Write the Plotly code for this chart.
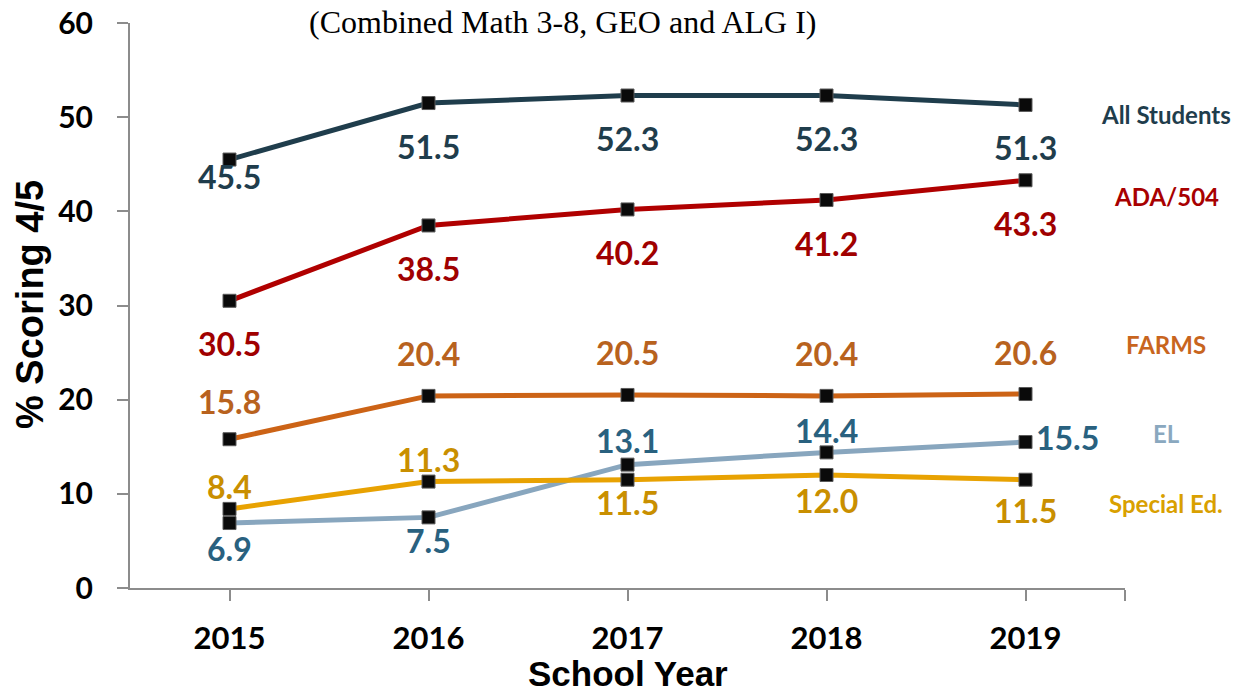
import plotly.graph_objects as go

years = [2015, 2016, 2017, 2018, 2019]
groups = ["All Students", "ADA/504", "FARMS", "EL", "Special Ed."]
all_students = [45.5, 51.5, 52.3, 52.3, 51.3]
ada_504 = [30.5, 38.5, 40.2, 41.2, 43.3]
farms = [15.8, 20.4, 20.5, 20.4, 20.6]
el = [6.9, 7.5, 13.1, 14.4, 15.5]
special_ed = [8.4, 11.3, 11.5, 12.0, 11.5]

series = [all_students, ada_504, farms, el, special_ed]
line_colors = ["#1F3D4C", "#B00000", "#CC6316", "#88A6BE", "#E8A202"]
label_colors = ["#1F3D4C", "#A00000", "#B8621E", "#29617F", "#C98F00"]
name_colors = ["#1F3D4C", "#A80000", "#C8651E", "#8AA8BF", "#D9A000"]
# vertical nudge (px) of each value label relative to its point
label_shift = [
    [-17, -43, -43, -43, -43],
    [-43, -43, -43, -43, -43],
    [38, 42, 42, 42, 42],
    [-25, -23, 24, 22, 5],
    [22, 22, -23, -25, -31],
]
# right-side series name positions (y value in axis units)
name_y = [50.3, 41.6, 25.9, 16.4, 9.0]

NUM_FONT = "Lato"

# plot area geometry (px)
L, R, T, B = 130, 123, 23, 104
PW, PH = 1248 - L - R, 692 - T - B

fig = go.Figure()
for vals, lc, g in zip(series, line_colors, groups):
    fig.add_trace(go.Scatter(
        x=years, y=vals, mode="lines+markers", name=g, showlegend=False,
        line=dict(color=lc, width=5),
        marker=dict(symbol="square", size=13, color="#0A0A0A", line=dict(color="#5A5A5A", width=1)),
    ))

annotations = []
for si, (vals, tc) in enumerate(zip(series, label_colors)):
    for i, (yr, v) in enumerate(zip(years, vals)):
        xshift = 0
        xanchor = "center"
        if si == 3 and i == 4:
            xshift = 8
            xanchor = "left"
        annotations.append(dict(
            x=yr, y=v, xref="x", yref="y", text=f"{v:.1f}", showarrow=False,
            yshift=label_shift[si][i], xshift=xshift, xanchor=xanchor, yanchor="middle",
            font=dict(family=NUM_FONT, size=32, color=tc, weight="bold"),
        ))

for g, ny, nc in zip(groups, name_y, name_colors):
    annotations.append(dict(
        x=(1166 - L) / PW, y=ny, xref="paper", yref="y", text=g, showarrow=False,
        xanchor="center", yanchor="middle",
        font=dict(family=NUM_FONT, size=24, color=nc, weight="bold"),
    ))

# chart subtitle
annotations.append(dict(
    x=(562 - L) / PW, y=1.0 - (22 - T) / PH, xref="paper", yref="paper",
    text="(Combined Math 3-8, GEO and ALG I)", showarrow=False,
    xanchor="center", yanchor="middle",
    font=dict(family="Liberation Serif", size=32, color="#000000"),
))
# axis titles
annotations.append(dict(
    x=(30 - L) / PW, y=1.0 - (305 - T) / PH, xref="paper", yref="paper",
    text="% Scoring 4/5", showarrow=False, textangle=-90,
    xanchor="center", yanchor="middle",
    font=dict(family="Liberation Sans", size=38, color="#000000", weight="bold"),
))
annotations.append(dict(
    x=(628 - L) / PW, y=-(673 - (T + PH)) / PH, xref="paper", yref="paper",
    text="School Year", showarrow=False,
    xanchor="center", yanchor="middle",
    font=dict(family="Liberation Sans", size=35, color="#000000", weight="bold"),
))

fig.update_layout(
    width=1248, height=692,
    margin=dict(l=L, r=R, t=T, b=B, autoexpand=False),
    paper_bgcolor="white", plot_bgcolor="white",
    annotations=annotations,
    xaxis=dict(
        range=[2014.5, 2019.5],
        tickvals=years + [2019.5],
        ticktext=[str(y) for y in years] + [""],
        ticks="outside", ticklen=11, tickcolor="#8C8C8C", tickwidth=2,
        showline=True, linecolor="#8C8C8C", linewidth=2,
        showgrid=False, zeroline=False, automargin=False,
        tickfont=dict(family=NUM_FONT, size=31, color="#000000", weight="bold"),
        ticklabelstandoff=11,
    ),
    yaxis=dict(
        range=[0, 60], tickvals=[0, 10, 20, 30, 40, 50, 60],
        ticks="outside", ticklen=11, tickcolor="#8C8C8C", tickwidth=2,
        showline=True, linecolor="#8C8C8C", linewidth=2,
        showgrid=False, zeroline=False, automargin=False,
        tickfont=dict(family=NUM_FONT, size=30, color="#000000", weight="bold"),
        ticklabelstandoff=18,
    ),
)

fig.write_html("out.html")
